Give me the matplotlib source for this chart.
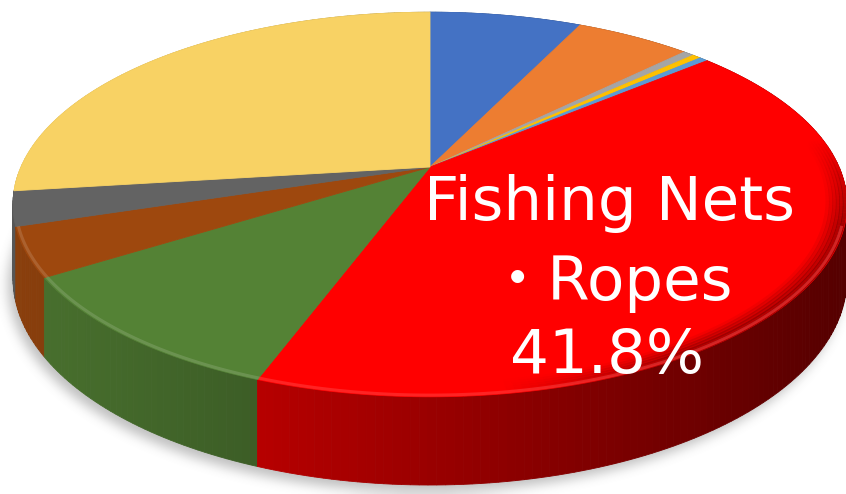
import numpy as np
import matplotlib

matplotlib.use("Agg")
import matplotlib.pyplot as plt
from matplotlib.collections import LineCollection
from matplotlib.colors import to_rgb
from matplotlib.patches import Polygon
from matplotlib.path import Path

# ---- data ------------------------------------------------------------------
# shares in percent, clockwise from 12 o'clock
shares = [7.1, 5.4, 0.5, 0.4, 0.4, 41.8, 10.4, 4.1, 2.9, 27.0]
colors = ["#4472C4", "#ED7D31", "#A5A5A5", "#FFC000", "#5B9BD5",
          "#FF0000", "#548235", "#9E480E", "#636363", "#F8D264"]
label_lines = ["Fishing Nets", "・Ropes", "41.8%"]

# ---- geometry (pixel units) ------------------------------------------------
W, H = 846, 494
CX, CY = 430.0, 167.0      # projected pie centre
A, B = 409.0, 185.0        # horizontal / vertical radii before perspective
K = 0.195                  # perspective strength (far side shrinks)
DEPTH = 71.0               # wall height


def project(theta, r=1.0, drop=0.0):
    u = r * np.cos(theta)
    v = r * np.sin(theta)
    w = 1.0 + K * v
    return CX + A * u / w, CY - B * v / w + drop / w


def shade(color, x):
    f = np.clip(0.87 - 0.00065 * (np.asarray(x) - 20.0), 0.3, 1.0)
    return np.multiply.outer(f, np.array(to_rgb(color)))


def box_blur(img, r, passes=3):
    out = img
    for _ in range(passes):
        for axis in (0, 1):
            pad = [(0, 0), (0, 0)]
            pad[axis] = (r + 1, r)
            c = np.cumsum(np.pad(out, pad, mode="edge"), axis=axis)
            if axis == 0:
                out = (c[2 * r + 1:] - c[:-2 * r - 1]) / (2 * r + 1)
            else:
                out = (c[:, 2 * r + 1:] - c[:, :-2 * r - 1]) / (2 * r + 1)
    return out


bounds = np.radians(90.0 - 3.6 * np.concatenate([[0.0], np.cumsum(shares)]))

fig = plt.figure(figsize=(W / 100, H / 100), dpi=100)
ax = fig.add_axes([0, 0, 1, 1])
ax.set_xlim(0, W)
ax.set_ylim(H, 0)
ax.axis("off")

# ---- soft drop shadow under the disc ---------------------------------------
t = np.linspace(0, 2 * np.pi, 400)
bx, by = project(t, drop=DEPTH)
outline = Path(np.column_stack([bx - 5, by + 7]))
gx, gy = np.meshgrid(np.arange(W) + 0.5, np.arange(H) + 0.5)
mask = outline.contains_points(np.column_stack([gx.ravel(), gy.ravel()]))
mask = box_blur(mask.reshape(H, W).astype(float), 5)
rgba = np.zeros((H, W, 4))
rgba[..., :3] = 0.45
rgba[..., 3] = mask * 0.45
ax.imshow(rgba, extent=[0, W, H, 0], zorder=0, interpolation="bilinear")

# ---- outer walls, back to front --------------------------------------------
segs = []
for i, c in enumerate(colors):
    a0, a1 = bounds[i], bounds[i + 1]
    n = max(2, int(abs(a0 - a1) / np.radians(1.0)) + 1)
    edges = np.linspace(a0, a1, n + 1)
    for s0, s1 in zip(edges[:-1], edges[1:]):
        segs.append((np.sin(0.5 * (s0 + s1)), s0, s1, c))
segs.sort(key=lambda s: -s[0])
for _, s0, s1, c in segs:
    tt = np.linspace(s0, s1, 4)
    tx, ty = project(tt)
    lx, ly = project(tt[::-1], drop=DEPTH)
    fc = tuple(shade(c, tx.mean()))
    ax.add_patch(Polygon(np.column_stack([np.r_[tx, lx], np.r_[ty, ly]]),
                         closed=True, facecolor=fc, edgecolor=fc, lw=0.6,
                         zorder=2))

# ---- top faces --------------------------------------------------------------
for i, c in enumerate(colors):
    a0, a1 = bounds[i], bounds[i + 1]
    tt = np.linspace(a0, a1, max(3, int(abs(a0 - a1) * 60)))
    tx, ty = project(tt)
    ax.add_patch(Polygon(np.column_stack([np.r_[CX, tx], np.r_[CY, ty]]),
                         closed=True, facecolor=c, edgecolor=c, lw=0.6,
                         zorder=3))

    # rounded bevel: rim darkens towards the right-hand side, fading in
    mid = 0.5 * (tt[:-1] + tt[1:])
    ramp = (np.clip((0.15 - np.sin(mid)) / 0.45, 0, 1)
            * np.clip((np.cos(mid) - 0.15) / 0.35, 0, 1))
    if ramp.max() > 0:
        for r, al in zip(np.linspace(0.955, 0.995, 6),
                         np.linspace(0.08, 0.55, 6)):
            hx, hy = project(tt, r=r)
            pts = np.column_stack([hx, hy])
            lines = np.stack([pts[:-1], pts[1:]], axis=1)
            cols = np.column_stack([shade(c, 0.5 * (hx[:-1] + hx[1:])),
                                    al * ramp])
            ax.add_collection(LineCollection(lines, colors=cols, lw=3,
                                             capstyle="butt", zorder=4))

    # light bevel highlight along the near rim
    front = tt[np.sin(tt) < -0.3]
    if len(front) > 1:
        hx, hy = project(front, r=0.994)
        hc = tuple(0.75 * np.array(to_rgb(c)) + 0.25)
        ax.plot(hx, hy, color=hc, lw=2.2, alpha=0.55, zorder=4,
                solid_capstyle="butt")

# ---- label on the largest slice --------------------------------------------
for line, (x, y) in zip(label_lines, [(610, 220), (610, 300), (607, 373)]):
    ax.text(x, y, line, color="white", fontsize=44,
            family=["DejaVu Sans", "Noto Sans CJK JP"],
            ha="center", va="baseline", zorder=5)

fig.savefig("out.png", dpi=100)
